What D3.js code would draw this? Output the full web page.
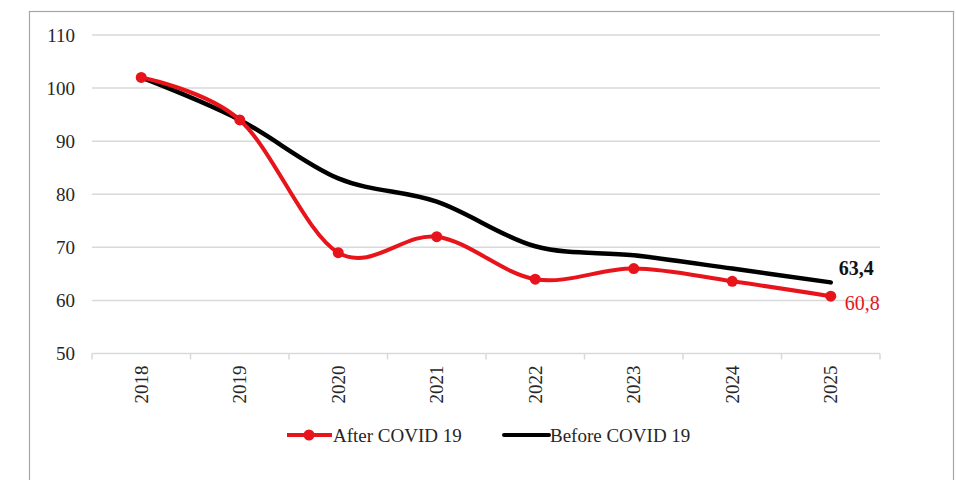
<!DOCTYPE html>
<html>
<head>
<meta charset="utf-8">
<script src="https://cdn.jsdelivr.net/npm/d3@7"></script>
<style>
    body { margin: 0; background: #fff; }
    svg text { font-family: "Liberation Serif", "Times New Roman", serif; fill: #262626; }
</style>
</head>
<body>
<svg id="chart"></svg>
<script>
let years = ['2018', '2019', '2020', '2021', '2022', '2023', '2024', '2025'];
let afterCovid = [102, 94, 69, 72, 64, 66, 63.6, 60.8];
let beforeCovid = [102, 94, 83, 78.6, 70.2, 68.5, 66, 63.4];
let yTicks = [50, 60, 70, 80, 90, 100, 110];
let seriesNames = ['After COVID 19', 'Before COVID 19'];

let width = 956;
let height = 480;
let margin = {
    top: 35,
    bot: 126.5,
    left: 92,
    right: 76
};
let config = {
    width: width - margin.left - margin.right,
    height: height - margin.top - margin.bot,
    margin: margin
};

let svg = d3.select('#chart')
    .attr('width', width)
    .attr('height', height);

// outer frame
svg.append('rect')
    .attr('x', 29.5)
    .attr('y', 11.5)
    .attr('width', 924)
    .attr('height', 480)
    .attr('fill', 'none')
    .attr('stroke', '#a6a6a6')
    .attr('stroke-width', 1.2);

let xScale = d3.scaleBand()
    .domain(years)
    .range([0, config.width]);
let yScale = d3.scaleLinear()
    .domain([50, 110])
    .range([config.height, 0]);

let plot = svg.append('g')
    .attr('transform', `translate(${margin.left},${margin.top})`);

// grid
plot.append('g')
    .selectAll('line')
    .data(yTicks.filter(d => d > 50))
    .enter()
    .append('line')
    .attr('x1', 0)
    .attr('x2', config.width)
    .attr('y1', d => yScale(d))
    .attr('y2', d => yScale(d))
    .attr('stroke', '#d9d9d9')
    .attr('stroke-width', 1.5);

// y axis labels
let yAx = d3.axisLeft(yScale)
    .tickValues(yTicks)
    .tickSize(0)
    .tickPadding(17);
let yAxGroup = plot.append('g').call(yAx);
yAxGroup.select('.domain').remove();
yAxGroup.selectAll('text')
    .style('font-size', '19px')
    .style('fill', '#262626');

// x axis with ticks between categories
let xAxGroup = plot.append('g')
    .attr('transform', `translate(0,${config.height})`);
xAxGroup.append('line')
    .attr('x1', 0)
    .attr('x2', config.width)
    .attr('stroke', '#d9d9d9')
    .attr('stroke-width', 1.5);
let sep = years.map(d => xScale(d)).concat([config.width]);
xAxGroup.selectAll('.sep')
    .data(sep)
    .enter()
    .append('line')
    .attr('class', 'sep')
    .attr('x1', d => d)
    .attr('x2', d => d)
    .attr('y1', 0)
    .attr('y2', 6)
    .attr('stroke', '#d9d9d9')
    .attr('stroke-width', 1.5);
xAxGroup.selectAll('.lbl')
    .data(years)
    .enter()
    .append('text')
    .attr('class', 'lbl')
    .attr('transform', d => `translate(${xScale(d) + xScale.bandwidth() / 2 + 6.5},12) rotate(-90)`)
    .attr('text-anchor', 'end')
    .style('font-size', '19px')
    .text(d => d);

let cx = d => xScale(d) + xScale.bandwidth() / 2;
let line = d3.line()
    .x((d, i) => cx(years[i]))
    .y(d => yScale(d))
    .curve(d3.curveCardinal.tension(0));

plot.append('path')
    .datum(beforeCovid)
    .attr('d', line)
    .attr('fill', 'none')
    .attr('stroke', '#000')
    .attr('stroke-width', 4.5)
    .attr('stroke-linecap', 'round');

plot.append('path')
    .datum(afterCovid)
    .attr('d', line)
    .attr('fill', 'none')
    .attr('stroke', '#e8141b')
    .attr('stroke-width', 4);

plot.selectAll('.dot')
    .data(afterCovid)
    .enter()
    .append('circle')
    .attr('class', 'dot')
    .attr('cx', (d, i) => cx(years[i]))
    .attr('cy', d => yScale(d))
    .attr('r', 5.5)
    .attr('fill', '#e8141b');

// end labels
let last = years.length - 1;
plot.append('text')
    .attr('x', cx(years[last]) + 8)
    .attr('y', yScale(beforeCovid[last]) - 7)
    .style('font-size', '20px')
    .style('font-weight', 'bold')
    .style('fill', '#111')
    .text(String(beforeCovid[last]).replace('.', ','));
plot.append('text')
    .attr('x', cx(years[last]) + 14)
    .attr('y', yScale(afterCovid[last]) + 14)
    .style('font-size', '20px')
    .style('fill', '#e8141b')
    .text(String(afterCovid[last]).replace('.', ','));

// legend
let legend = svg.append('g').attr('transform', 'translate(287,435)');
let legX = [0, 217];
let legColor = ['#e8141b', '#000'];
seriesNames.forEach((name, i) => {
    let g = legend.append('g').attr('transform', `translate(${legX[i]},0)`);
    g.append('line')
        .attr('x1', 0)
        .attr('x2', 45)
        .attr('stroke', legColor[i])
        .attr('stroke-width', 4)
        .attr('stroke-linecap', i === 1 ? 'round' : 'butt');
    if (i === 0) {
        g.append('circle')
            .attr('cx', 22)
            .attr('r', 5.5)
            .attr('fill', legColor[i]);
    }
    g.append('text')
        .attr('x', 46)
        .attr('y', 6.5)
        .style('font-size', '19px')
        .text(name);
});
</script>
</body>
</html>
